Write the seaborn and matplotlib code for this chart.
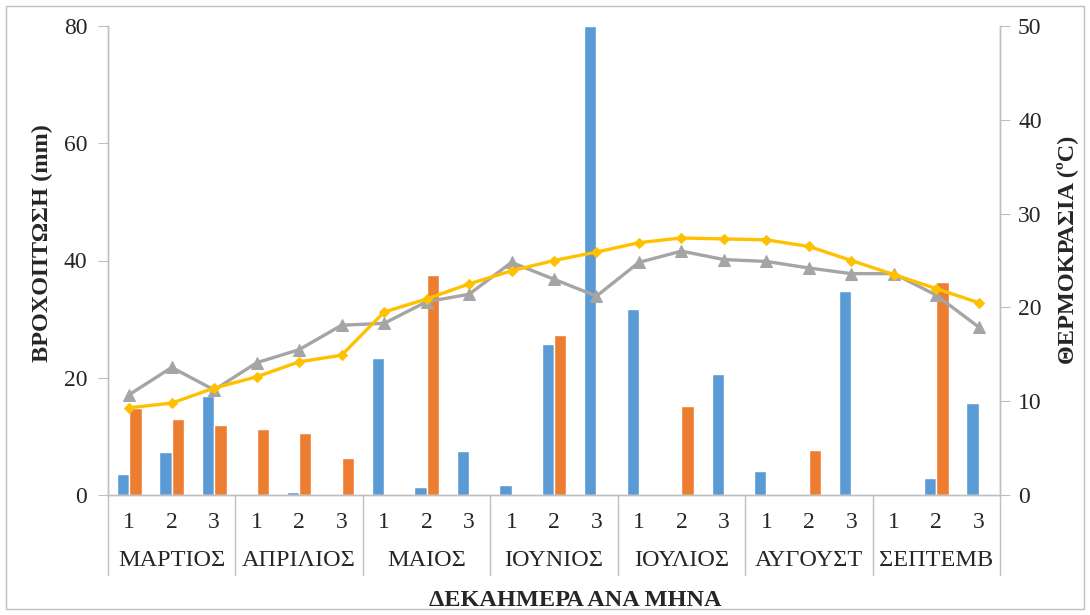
import numpy as np
import pandas as pd
import matplotlib
matplotlib.use("Agg")
import matplotlib.pyplot as plt
import matplotlib.transforms as mtransforms
from matplotlib.patches import Rectangle
import seaborn as sns

# data
MONTHS = ["ΜΑΡΤΙΟΣ", "ΑΠΡΙΛΙΟΣ", "ΜΑΙΟΣ", "ΙΟΥΝΙΟΣ", "ΙΟΥΛΙΟΣ", "ΑΥΓΟΥΣΤ", "ΣΕΠΤΕΜΒ"]
DEKADS = ["1", "2", "3"]

rain_a = [3.5, 7.3, 16.9, 0, 0.5, 0, 23.3, 1.4, 7.5, 1.7, 25.7, 80.0,
          31.8, 0, 20.7, 4.1, 0, 34.8, 0.2, 2.9, 15.7]
rain_b = [14.9, 12.9, 11.9, 11.2, 10.5, 6.3, 0, 37.6, 0, 0, 27.3, 0,
          0, 15.2, 0, 0, 7.7, 0, 0, 36.3, 0]
temp_a = [10.7, 13.6, 11.2, 14.1, 15.5, 18.1, 18.3, 20.6, 21.4, 24.8, 23.0, 21.2,
          24.8, 26.0, 25.1, 24.9, 24.2, 23.6, 23.6, 21.3, 17.9]
temp_b = [9.3, 9.8, 11.4, 12.6, 14.2, 14.9, 19.5, 20.9, 22.5, 23.9, 25.0, 25.9,
          26.9, 27.4, 27.3, 27.2, 26.5, 25.0, 23.5, 22.0, 20.5]

BLUE = "#5B9BD5"
ORANGE = "#ED7D31"
GRAY = "#A5A5A5"
YELLOW = "#FFC000"
AXIS_GRAY = "#BFBFBF"

sns.set_style("white")
plt.rcParams["font.family"] = ["Liberation Serif", "DejaVu Serif"]

cats = [f"{m}-{d}" for m in MONTHS for d in DEKADS]
bars = pd.DataFrame({
    "cat": cats * 2,
    "rain": rain_a + rain_b,
    "series": ["a"] * len(cats) + ["b"] * len(cats),
})
pos = np.arange(len(cats))

fig = plt.figure(figsize=(10.9, 6.15), dpi=100)
ax = fig.add_axes([108 / 1090, 1 - 495 / 615, 892 / 1090, 469 / 615])

sns.barplot(data=bars, x="cat", y="rain", hue="series", order=cats,
            palette=[BLUE, ORANGE], width=0.58, gap=0.0, saturation=1,
            legend=False, ax=ax)

ax2 = ax.twinx()
sns.lineplot(x=pos, y=temp_a, ax=ax2, color=GRAY, linewidth=2.4,
             marker="^", markersize=9, markeredgecolor=GRAY)
sns.lineplot(x=pos, y=temp_b, ax=ax2, color=YELLOW, linewidth=2.4,
             marker="D", markersize=5.5, markeredgecolor=YELLOW)

ax.set_xlim(-0.5, len(cats) - 0.5)
ax.set_ylim(0, 80)
ax.set_yticks([0, 20, 40, 60, 80])
ax2.set_ylim(0, 50)
ax2.set_yticks([0, 10, 20, 30, 40, 50])

for a in (ax, ax2):
    a.spines["top"].set_visible(False)
    for s in ("left", "right", "bottom"):
        a.spines[s].set_color(AXIS_GRAY)
        a.spines[s].set_linewidth(1)
ax.tick_params(axis="y", direction="out", length=7, color=AXIS_GRAY,
               labelsize=17, pad=8, left=True)
ax2.tick_params(axis="y", direction="out", length=7, color=AXIS_GRAY,
                labelsize=17, pad=6, right=True)

ax.set_xticks(pos)
ax.set_xticklabels(DEKADS * len(MONTHS), fontsize=17)
ax.tick_params(axis="x", length=0, pad=12)
ax.set_xlabel("")
ax.set_ylabel("ΒΡΟΧΟΠΤΩΣΗ (mm)", fontsize=17.5, fontweight="bold")
ax.yaxis.set_label_coords((53 - 108) / 892, (495 - 243) / 469)
ax2.set_ylabel("ΘΕΡΜΟΚΡΑΣΙΑ (ºC)", fontsize=17.5, fontweight="bold")
ax2.yaxis.set_label_coords((1056 - 108) / 892, (495 - 250) / 469)

# second level of the category axis: month names and separators
trans = mtransforms.blended_transform_factory(ax.transData, ax.transAxes)
sep_low = -80 / 469
for i in range(len(MONTHS) + 1):
    x = i * 3 - 0.5
    ax.plot([x, x], [0, sep_low], transform=trans, color=AXIS_GRAY,
            linewidth=1, clip_on=False)
for i, m in enumerate(MONTHS):
    ax.text(i * 3 + 1, -66 / 469, m, transform=trans, ha="center",
            va="center", fontsize=17.5)

fig.text(575 / 1090, 1 - 601 / 615, "ΔΕΚΑΗΜΕΡΑ ΑΝΑ ΜΗΝΑ", ha="center",
         va="center", fontsize=17.5, fontweight="bold")

fig.patches.append(Rectangle((6 / 1090, 6 / 615), 1078 / 1090, 603 / 615,
                             transform=fig.transFigure, fill=False,
                             edgecolor=AXIS_GRAY, linewidth=1))

fig.savefig("out.png", dpi=100)
